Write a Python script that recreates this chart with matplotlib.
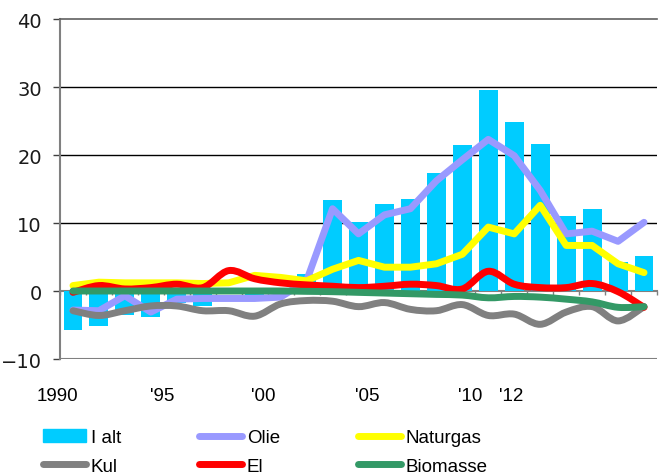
import numpy as np
import matplotlib
matplotlib.use("Agg")
import matplotlib.pyplot as plt
from matplotlib.path import Path
from matplotlib.patches import PathPatch, Patch
from matplotlib.lines import Line2D

# ---------------- DATA ----------------

years = list(range(1990, 2013))
year_labels = ["1990", "'95", "'00", "'05", "'10", "'12"]

i_alt = [-5.8, -5.1, -3.6, -3.8, -1.8, -2.2, 0.3, -0.6, 0.4, 2.5, 13.4, 10.1,
         12.8, 13.5, 17.4, 21.5, 29.6, 24.9, 21.6, 11.0, 12.1, 4.3, 5.2]
olie = [-2.8, -2.9, -0.7, -3.1, -1.2, -1.1, -1.1, -1.1, -0.9, 1.5, 12.1, 8.4,
        11.2, 12.1, 16.2, 19.3, 22.3, 19.9, 14.8, 8.4, 8.8, 7.3, 10.1]
naturgas = [0.8, 1.3, 1.2, 1.2, 1.2, 1.1, 1.2, 2.3, 2.0, 1.5, 3.2, 4.5,
            3.5, 3.5, 4.0, 5.4, 9.4, 8.4, 12.6, 6.7, 6.7, 4.0, 2.7]
kul = [-2.9, -3.6, -2.9, -2.2, -2.2, -2.9, -2.9, -3.7, -1.9, -1.4, -1.5, -2.3,
       -1.7, -2.7, -2.9, -2.0, -3.6, -3.4, -4.9, -3.1, -2.3, -4.4, -2.3]
el = [-0.2, 0.8, 0.3, 0.5, 1.0, 0.5, 3.0, 1.8, 1.2, 0.9, 0.7, 0.5,
      0.7, 1.0, 0.8, 0.3, 2.9, 1.0, 0.5, 0.5, 1.1, -0.1, -2.4]
biomasse = [0.0, 0.0, 0.0, 0.0, 0.0, 0.0, 0.0, 0.0, 0.0, -0.05, -0.1, -0.2,
            -0.3, -0.4, -0.5, -0.6, -1.0, -0.8, -0.9, -1.2, -1.6, -2.4, -2.3]

# ---------------- STYLE ----------------

C_IALT = "#00CCFF"
C_OLIE = "#9999FF"
C_GAS = "#FFFF00"
C_KUL = "#808080"
C_EL = "#FF0000"
C_BIO = "#339966"
LW = 5

W, H = 659, 477


def smooth_path(xs, ys):
    # excel style smoothed line as bezier segments
    p = np.column_stack([xs, ys]).astype(float)
    ext = np.vstack([p[0], p, p[-1]])
    verts = [p[0]]
    codes = [Path.MOVETO]
    for i in range(len(p) - 1):
        c1 = ext[i + 1] + (ext[i + 2] - ext[i]) / 6
        c2 = ext[i + 2] - (ext[i + 3] - ext[i + 1]) / 6
        verts += [c1, c2, ext[i + 2]]
        codes += [Path.CURVE4] * 3
    return Path(verts, codes)


fig = plt.figure(figsize=(W / 100, H / 100), dpi=100)
ax = fig.add_axes([60 / W, 1 - 360 / H, 597 / W, 340 / H])

x = np.arange(len(years))

ax.bar(x, i_alt, width=0.73, color=C_IALT, zorder=2)

ax.plot(x, olie, color=C_OLIE, lw=LW, solid_capstyle="round",
        solid_joinstyle="round", zorder=3)
ax.plot(x, naturgas, color=C_GAS, lw=LW, solid_capstyle="round",
        solid_joinstyle="round", zorder=4)
for vals, col, z in [(kul, C_KUL, 5), (el, C_EL, 6), (biomasse, C_BIO, 7)]:
    ax.add_patch(PathPatch(smooth_path(x, vals), fill=False, edgecolor=col,
                           lw=LW, capstyle="round", joinstyle="round", zorder=z))

# ---------------- AXES ----------------

ax.set_xlim(-0.5, len(years) - 0.5)
ax.set_ylim(-10, 40)
ax.set_yticks(range(-10, 41, 10))
ax.set_xticks(np.arange(-0.5, len(years), 1))
ax.set_xticklabels([])

for v in [10, 20, 30]:
    ax.axhline(v, color="black", lw=1, zorder=1)
ax.axhline(-10, color="#808080", lw=1.5, zorder=1)

ax.spines["right"].set_visible(False)
ax.spines["top"].set_color("#606060")
ax.spines["top"].set_linewidth(1.2)
ax.spines["left"].set_color("#808080")
ax.spines["left"].set_linewidth(1.5)
ax.spines["bottom"].set_position(("data", 0))
ax.spines["bottom"].set_color("#808080")
ax.spines["bottom"].set_linewidth(1.5)
ax.spines["bottom"].set_zorder(1)

ax.tick_params(axis="y", direction="out", length=5, width=1, color="#404040",
               pad=8, labelsize=14, labelcolor="#1a1a1a")
ax.tick_params(axis="x", direction="out", length=3, width=1, color="#808080")

# year labels below the plot
for lab, px in zip(year_labels, [57.7, 162, 263, 367, 470, 511]):
    fig.text(px / W, 1 - 397 / H, lab, ha="center", va="center",
             fontsize=13.5, family="Liberation Sans", color="black")

# ---------------- LEGEND ----------------

handles = [
    Patch(color=C_IALT),
    Line2D([], [], color=C_KUL, lw=LW, solid_capstyle="round"),
    Line2D([], [], color=C_OLIE, lw=LW, solid_capstyle="round"),
    Line2D([], [], color=C_EL, lw=LW, solid_capstyle="round"),
    Line2D([], [], color=C_GAS, lw=LW, solid_capstyle="round"),
    Line2D([], [], color=C_BIO, lw=LW, solid_capstyle="round"),
]
labels = ["I alt", "Kul", "Olie", "El", "Naturgas", "Biomasse"]

fig.legend(handles, labels, ncol=3, loc="upper left",
           bbox_to_anchor=(43 / W, 1 - 430 / H), frameon=False,
           borderpad=0, borderaxespad=0, handlelength=2.3,
           handletextpad=0.25, columnspacing=4.15, labelspacing=0.62,
           prop={"family": "Liberation Sans", "size": 13.5})

fig.savefig("out.png", dpi=100)
